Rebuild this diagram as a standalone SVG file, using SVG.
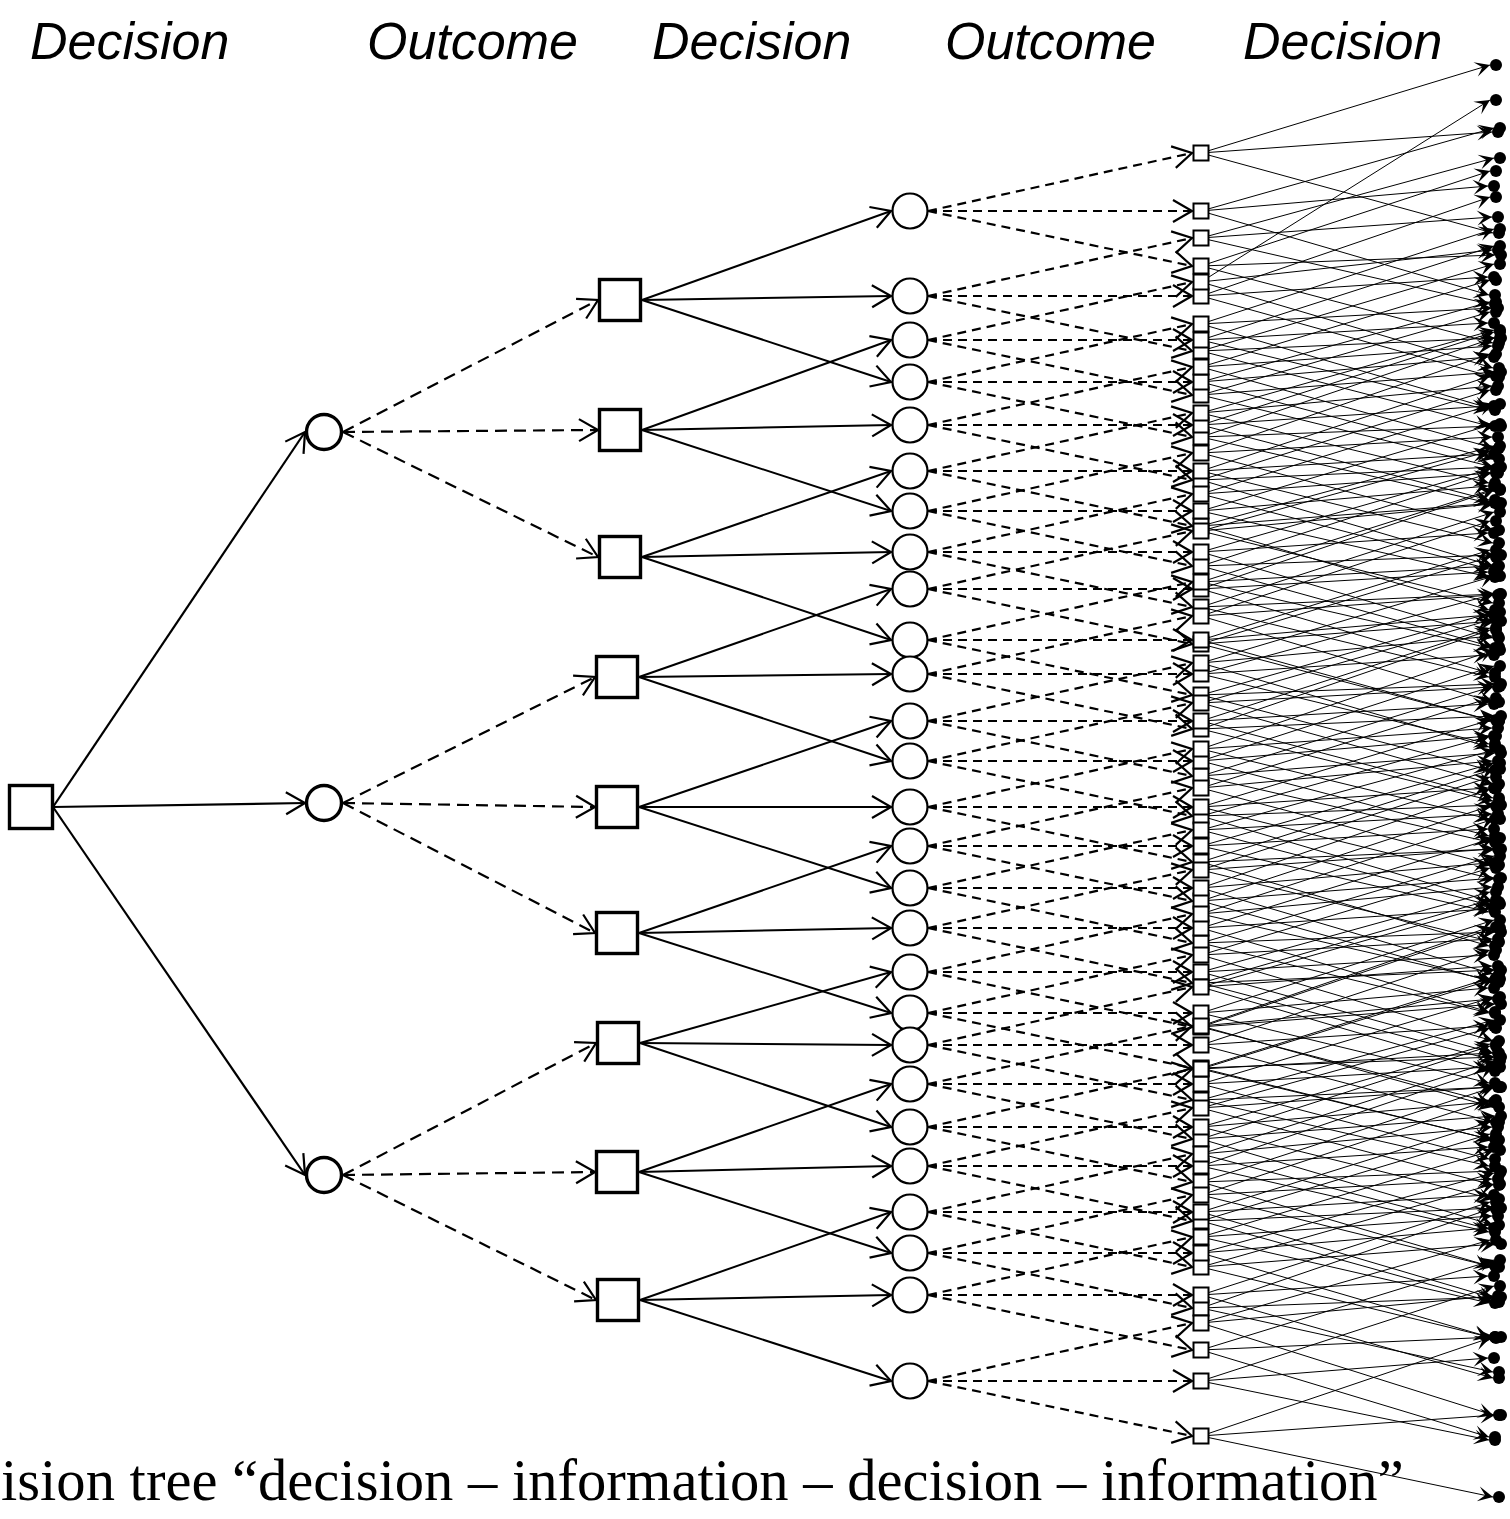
<svg xmlns="http://www.w3.org/2000/svg" width="1510" height="1519" viewBox="0 0 1510 1519">
<style>
.w{fill:#fff;stroke:#000}
.n1{stroke-width:3.4}
.n2{stroke-width:2.2}
.ss{fill:#fff;stroke:#000;stroke-width:2}
.dots circle{fill:#000}
#connectors path{fill:none;stroke:#000}
.l1 path{stroke-width:2.2;marker-end:url(#ah)}
.l2 path{stroke-width:2.2;stroke-dasharray:12 7;marker-end:url(#ah)}
.l3 path{stroke-width:2;marker-end:url(#ah)}
.l4 path{stroke-width:2.2;stroke-dasharray:9 6;marker-end:url(#ah)}
.l5 path{stroke-width:1;marker-end:url(#ad)}
.hd{font-family:"Liberation Sans",Arial,sans-serif;font-style:italic;font-size:52px;fill:#000}
.cap{font-family:"Liberation Serif","Times New Roman",serif;font-size:58.6px;fill:#000}
</style>
<defs>
<marker id="ah" markerUnits="userSpaceOnUse" viewBox="-22 -13 24 26" refX="0" refY="0" markerWidth="24" markerHeight="26" orient="auto" overflow="visible"><path d="M-19,-11 L0,0 L-19,11" fill="none" stroke="#000" stroke-width="2.2"/></marker>
<marker id="ad" markerUnits="userSpaceOnUse" viewBox="-16 -9 18 18" refX="0" refY="0" markerWidth="18" markerHeight="18" orient="auto" overflow="visible"><path d="M-15,-7.5 L0,0 L-15,7.5 L-8,0Z" fill="#000"/></marker>
</defs>
<rect width="1510" height="1519" fill="#fff"/>

<!-- column headings -->
<text class="hd" x="30" y="59">Decision</text>
<text class="hd" x="367" y="59">Outcome</text>
<text class="hd" x="652" y="59">Decision</text>
<text class="hd" x="945" y="59">Outcome</text>
<text class="hd" x="1243" y="59">Decision</text>

<g id="connectors">
<g class="l1">
<path d="M53 807L305 432"/><path d="M53 807L305 803"/><path d="M53 807L305 1175"/>
</g>
<g class="l2">
<path d="M343 432L598 300"/><path d="M343 432L598 430"/><path d="M343 432L598 557"/>
<path d="M343 803L595 677"/><path d="M343 803L595 807"/><path d="M343 803L595 933"/>
<path d="M343 1175L596 1043"/><path d="M343 1175L595 1172"/><path d="M343 1175L596 1300"/>
</g>
<g class="l3">
<path d="M642 300L891 211"/><path d="M642 300L891 296"/><path d="M642 300L891 382"/>
<path d="M642 430L891 340"/><path d="M642 430L891 425"/><path d="M642 430L891 511"/>
<path d="M642 557L891 471"/><path d="M642 557L891 552"/><path d="M642 557L891 640"/>
<path d="M639 677L891 589"/><path d="M639 677L891 674"/><path d="M639 677L891 761"/>
<path d="M639 807L891 721"/><path d="M639 807L891 807"/><path d="M639 807L891 888"/>
<path d="M639 933L891 846"/><path d="M639 933L891 928"/><path d="M639 933L891 1013"/>
<path d="M640 1043L891 972"/><path d="M640 1043L891 1045"/><path d="M640 1043L891 1127"/>
<path d="M639 1172L891 1084"/><path d="M639 1172L891 1166"/><path d="M639 1172L891 1253"/>
<path d="M640 1300L891 1212"/><path d="M640 1300L891 1295"/><path d="M640 1300L891 1381"/>
</g>
<g class="l4">
<path d="M928 211L1192 153"/><path d="M928 211L1192 211"/><path d="M928 211L1192 266"/>
<path d="M928 296L1192 238"/><path d="M928 296L1192 296"/><path d="M928 296L1192 351"/>
<path d="M928 340L1192 282"/><path d="M928 340L1192 340"/><path d="M928 340L1192 395"/>
<path d="M928 382L1192 324"/><path d="M928 382L1192 382"/><path d="M928 382L1192 437"/>
<path d="M928 425L1192 367"/><path d="M928 425L1192 425"/><path d="M928 425L1192 480"/>
<path d="M928 471L1192 413"/><path d="M928 471L1192 471"/><path d="M928 471L1192 526"/>
<path d="M928 511L1192 453"/><path d="M928 511L1192 511"/><path d="M928 511L1192 566"/>
<path d="M928 552L1192 494"/><path d="M928 552L1192 552"/><path d="M928 552L1192 607"/>
<path d="M928 589L1192 531"/><path d="M928 589L1192 589"/><path d="M928 589L1192 644"/>
<path d="M928 640L1192 582"/><path d="M928 640L1192 640"/><path d="M928 640L1192 695"/>
<path d="M928 674L1192 616"/><path d="M928 674L1192 674"/><path d="M928 674L1192 729"/>
<path d="M928 721L1192 663"/><path d="M928 721L1192 721"/><path d="M928 721L1192 776"/>
<path d="M928 761L1192 703"/><path d="M928 761L1192 761"/><path d="M928 761L1192 816"/>
<path d="M928 807L1192 749"/><path d="M928 807L1192 807"/><path d="M928 807L1192 862"/>
<path d="M928 846L1192 788"/><path d="M928 846L1192 846"/><path d="M928 846L1192 901"/>
<path d="M928 888L1192 830"/><path d="M928 888L1192 888"/><path d="M928 888L1192 943"/>
<path d="M928 928L1192 870"/><path d="M928 928L1192 928"/><path d="M928 928L1192 983"/>
<path d="M928 972L1192 914"/><path d="M928 972L1192 972"/><path d="M928 972L1192 1027"/>
<path d="M928 1013L1192 955"/><path d="M928 1013L1192 1013"/><path d="M928 1013L1192 1068"/>
<path d="M928 1045L1192 987"/><path d="M928 1045L1192 1045"/><path d="M928 1045L1192 1100"/>
<path d="M928 1084L1192 1026"/><path d="M928 1084L1192 1084"/><path d="M928 1084L1192 1139"/>
<path d="M928 1127L1192 1069"/><path d="M928 1127L1192 1127"/><path d="M928 1127L1192 1182"/>
<path d="M928 1166L1192 1108"/><path d="M928 1166L1192 1166"/><path d="M928 1166L1192 1221"/>
<path d="M928 1212L1192 1154"/><path d="M928 1212L1192 1212"/><path d="M928 1212L1192 1267"/>
<path d="M928 1253L1192 1195"/><path d="M928 1253L1192 1253"/><path d="M928 1253L1192 1308"/>
<path d="M928 1295L1192 1237"/><path d="M928 1295L1192 1295"/><path d="M928 1295L1192 1350"/>
<path d="M928 1381L1192 1323"/><path d="M928 1381L1192 1381"/><path d="M928 1381L1192 1436"/>
</g>
<g class="l5">
<path d="M1201 153L1490 65"/><path d="M1201 153L1492 132"/><path d="M1201 153L1493 233"/>
<path d="M1201 211L1494 128"/><path d="M1201 211L1488 186"/><path d="M1201 211L1489 295"/>
<path d="M1201 266L1490 171"/><path d="M1201 266L1495 255"/><path d="M1201 266L1493 343"/>
<path d="M1201 238L1494 158"/><path d="M1201 238L1492 217"/><path d="M1201 238L1489 304"/>
<path d="M1201 296L1490 197"/><path d="M1201 296L1488 277"/><path d="M1201 296L1493 377"/>
<path d="M1201 351L1494 264"/><path d="M1201 351L1495 338"/><path d="M1201 351L1489 426"/>
<path d="M1201 282L1490 100"/><path d="M1201 282L1492 250"/><path d="M1201 282L1493 368"/>
<path d="M1201 340L1494 246"/><path d="M1201 340L1488 323"/><path d="M1201 340L1489 410"/>
<path d="M1201 395L1490 312"/><path d="M1201 395L1495 372"/><path d="M1201 395L1493 467"/>
<path d="M1201 324L1494 229"/><path d="M1201 324L1492 308"/><path d="M1201 324L1489 408"/>
<path d="M1201 382L1490 302"/><path d="M1201 382L1488 357"/><path d="M1201 382L1493 459"/>
<path d="M1201 437L1494 338"/><path d="M1201 437L1495 426"/><path d="M1201 437L1489 503"/>
<path d="M1201 367L1490 280"/><path d="M1201 367L1492 346"/><path d="M1201 367L1493 448"/>
<path d="M1201 425L1494 332"/><path d="M1201 425L1488 406"/><path d="M1201 425L1489 500"/>
<path d="M1201 480L1490 390"/><path d="M1201 480L1495 467"/><path d="M1201 480L1493 566"/>
<path d="M1201 413L1494 330"/><path d="M1201 413L1492 386"/><path d="M1201 413L1489 483"/>
<path d="M1201 471L1490 376"/><path d="M1201 471L1488 454"/><path d="M1201 471L1493 543"/>
<path d="M1201 526L1494 446"/><path d="M1201 526L1495 503"/><path d="M1201 526L1489 610"/>
<path d="M1201 453L1490 354"/><path d="M1201 453L1492 437"/><path d="M1201 453L1493 530"/>
<path d="M1201 511L1494 424"/><path d="M1201 511L1488 486"/><path d="M1201 511L1489 577"/>
<path d="M1201 566L1490 473"/><path d="M1201 566L1495 555"/><path d="M1201 566L1493 647"/>
<path d="M1201 494L1494 404"/><path d="M1201 494L1492 473"/><path d="M1201 494L1489 569"/>
<path d="M1201 552L1490 469"/><path d="M1201 552L1488 533"/><path d="M1201 552L1493 638"/>
<path d="M1201 607L1494 512"/><path d="M1201 607L1495 594"/><path d="M1201 607L1489 677"/>
<path d="M1201 531L1490 451"/><path d="M1201 531L1492 504"/><path d="M1201 531L1493 603"/>
<path d="M1201 589L1494 490"/><path d="M1201 589L1488 572"/><path d="M1201 589L1489 673"/>
<path d="M1201 644L1490 557"/><path d="M1201 644L1495 621"/><path d="M1201 644L1493 721"/>
<path d="M1201 582L1494 489"/><path d="M1201 582L1492 566"/><path d="M1201 582L1489 648"/>
<path d="M1201 640L1490 550"/><path d="M1201 640L1488 615"/><path d="M1201 640L1493 721"/>
<path d="M1201 695L1494 612"/><path d="M1201 695L1495 684"/><path d="M1201 695L1489 770"/>
<path d="M1201 616L1490 521"/><path d="M1201 616L1492 595"/><path d="M1201 616L1493 702"/>
<path d="M1201 674L1494 594"/><path d="M1201 674L1488 655"/><path d="M1201 674L1489 744"/>
<path d="M1201 729L1490 630"/><path d="M1201 729L1495 716"/><path d="M1201 729L1493 801"/>
<path d="M1201 663L1494 576"/><path d="M1201 663L1492 636"/><path d="M1201 663L1489 747"/>
<path d="M1201 721L1490 628"/><path d="M1201 721L1488 704"/><path d="M1201 721L1493 798"/>
<path d="M1201 776L1494 686"/><path d="M1201 776L1495 753"/><path d="M1201 776L1489 842"/>
<path d="M1201 703L1490 620"/><path d="M1201 703L1492 687"/><path d="M1201 703L1493 784"/>
<path d="M1201 761L1494 666"/><path d="M1201 761L1488 736"/><path d="M1201 761L1489 836"/>
<path d="M1201 816L1490 736"/><path d="M1201 816L1495 805"/><path d="M1201 816L1493 902"/>
<path d="M1201 749L1494 650"/><path d="M1201 749L1492 728"/><path d="M1201 749L1489 819"/>
<path d="M1201 807L1490 720"/><path d="M1201 807L1488 788"/><path d="M1201 807L1493 879"/>
<path d="M1201 862L1494 769"/><path d="M1201 862L1495 849"/><path d="M1201 862L1489 946"/>
<path d="M1201 788L1490 698"/><path d="M1201 788L1492 761"/><path d="M1201 788L1493 865"/>
<path d="M1201 846L1494 763"/><path d="M1201 846L1488 829"/><path d="M1201 846L1489 912"/>
<path d="M1201 901L1490 806"/><path d="M1201 901L1495 878"/><path d="M1201 901L1493 982"/>
<path d="M1201 830L1494 750"/><path d="M1201 830L1492 814"/><path d="M1201 830L1489 905"/>
<path d="M1201 888L1490 789"/><path d="M1201 888L1488 863"/><path d="M1201 888L1493 974"/>
<path d="M1201 943L1494 856"/><path d="M1201 943L1495 932"/><path d="M1201 943L1489 1013"/>
<path d="M1201 870L1490 777"/><path d="M1201 870L1492 849"/><path d="M1201 870L1493 942"/>
<path d="M1201 928L1494 838"/><path d="M1201 928L1488 909"/><path d="M1201 928L1489 1012"/>
<path d="M1201 983L1490 900"/><path d="M1201 983L1495 970"/><path d="M1201 983L1493 1060"/>
<path d="M1201 914L1494 819"/><path d="M1201 914L1492 887"/><path d="M1201 914L1489 980"/>
<path d="M1201 972L1490 892"/><path d="M1201 972L1488 955"/><path d="M1201 972L1493 1053"/>
<path d="M1201 1027L1494 928"/><path d="M1201 1027L1495 1004"/><path d="M1201 1027L1489 1102"/>
<path d="M1201 955L1490 868"/><path d="M1201 955L1492 939"/><path d="M1201 955L1493 1041"/>
<path d="M1201 1013L1494 920"/><path d="M1201 1013L1488 988"/><path d="M1201 1013L1489 1083"/>
<path d="M1201 1068L1490 978"/><path d="M1201 1068L1495 1057"/><path d="M1201 1068L1493 1140"/>
<path d="M1201 987L1494 904"/><path d="M1201 987L1492 966"/><path d="M1201 987L1489 1071"/>
<path d="M1201 1045L1490 950"/><path d="M1201 1045L1488 1026"/><path d="M1201 1045L1493 1122"/>
<path d="M1201 1100L1494 1020"/><path d="M1201 1100L1495 1087"/><path d="M1201 1100L1489 1166"/>
<path d="M1201 1026L1490 927"/><path d="M1201 1026L1492 999"/><path d="M1201 1026L1493 1107"/>
<path d="M1201 1084L1494 997"/><path d="M1201 1084L1488 1067"/><path d="M1201 1084L1489 1159"/>
<path d="M1201 1139L1490 1046"/><path d="M1201 1139L1495 1116"/><path d="M1201 1139L1493 1225"/>
<path d="M1201 1069L1494 979"/><path d="M1201 1069L1492 1053"/><path d="M1201 1069L1489 1139"/>
<path d="M1201 1127L1490 1044"/><path d="M1201 1127L1488 1102"/><path d="M1201 1127L1493 1199"/>
<path d="M1201 1182L1494 1087"/><path d="M1201 1182L1495 1171"/><path d="M1201 1182L1489 1266"/>
<path d="M1201 1108L1490 1028"/><path d="M1201 1108L1492 1087"/><path d="M1201 1108L1493 1185"/>
<path d="M1201 1166L1494 1067"/><path d="M1201 1166L1488 1147"/><path d="M1201 1166L1489 1232"/>
<path d="M1201 1221L1490 1134"/><path d="M1201 1221L1495 1208"/><path d="M1201 1221L1493 1302"/>
<path d="M1201 1154L1494 1061"/><path d="M1201 1154L1492 1127"/><path d="M1201 1154L1489 1229"/>
<path d="M1201 1212L1490 1122"/><path d="M1201 1212L1488 1195"/><path d="M1201 1212L1493 1298"/>
<path d="M1201 1267L1494 1184"/><path d="M1201 1267L1495 1244"/><path d="M1201 1267L1489 1337"/>
<path d="M1201 1195L1490 1100"/><path d="M1201 1195L1492 1179"/><path d="M1201 1195L1493 1267"/>
<path d="M1201 1253L1494 1173"/><path d="M1201 1253L1488 1228"/><path d="M1201 1253L1489 1337"/>
<path d="M1201 1308L1490 1209"/><path d="M1201 1308L1495 1297"/><path d="M1201 1308L1493 1372"/>
<path d="M1201 1237L1494 1150"/><path d="M1201 1237L1492 1216"/><path d="M1201 1237L1489 1303"/>
<path d="M1201 1295L1490 1202"/><path d="M1201 1295L1488 1276"/><path d="M1201 1295L1493 1378"/>
<path d="M1201 1350L1494 1260"/><path d="M1201 1350L1495 1337"/><path d="M1201 1350L1489 1437"/>
<path d="M1201 1323L1490 1240"/><path d="M1201 1323L1492 1296"/><path d="M1201 1323L1493 1415"/>
<path d="M1201 1381L1494 1286"/><path d="M1201 1381L1488 1358"/><path d="M1201 1381L1489 1440"/>
<path d="M1201 1436L1490 1338"/><path d="M1201 1436L1495 1415"/><path d="M1201 1436L1493 1497"/>
</g>
</g>

<!-- decision root -->
<g id="root"><rect class="w n1" x="9.5" y="785.5" width="43" height="43"/></g>

<!-- first outcome nodes -->
<g id="p1"><circle class="w n1" cx="324" cy="432" r="17.5"/></g>
<g id="p2"><circle class="w n1" cx="324" cy="803" r="17.5"/></g>
<g id="p3"><circle class="w n1" cx="324" cy="1175" r="17.5"/></g>

<!-- second decision nodes -->
<g id="q1"><rect class="w n1" x="599.5" y="279.5" width="41" height="41"/></g>
<g id="q2"><rect class="w n1" x="599.5" y="409.5" width="41" height="41"/></g>
<g id="q3"><rect class="w n1" x="599.5" y="536.5" width="41" height="41"/></g>
<g id="q4"><rect class="w n1" x="596.5" y="656.5" width="41" height="41"/></g>
<g id="q5"><rect class="w n1" x="596.5" y="786.5" width="41" height="41"/></g>
<g id="q6"><rect class="w n1" x="596.5" y="912.5" width="41" height="41"/></g>
<g id="q7"><rect class="w n1" x="597.5" y="1022.5" width="41" height="41"/></g>
<g id="q8"><rect class="w n1" x="596.5" y="1151.5" width="41" height="41"/></g>
<g id="q9"><rect class="w n1" x="597.5" y="1279.5" width="41" height="41"/></g>

<!-- second outcome nodes -->
<g id="c1"><circle class="w n2" cx="910" cy="211" r="17.5"/></g>
<g id="c2"><circle class="w n2" cx="910" cy="296" r="17.5"/></g>
<g id="c3"><circle class="w n2" cx="910" cy="340" r="17.5"/></g>
<g id="c4"><circle class="w n2" cx="910" cy="382" r="17.5"/></g>
<g id="c5"><circle class="w n2" cx="910" cy="425" r="17.5"/></g>
<g id="c6"><circle class="w n2" cx="910" cy="471" r="17.5"/></g>
<g id="c7"><circle class="w n2" cx="910" cy="511" r="17.5"/></g>
<g id="c8"><circle class="w n2" cx="910" cy="552" r="17.5"/></g>
<g id="c9"><circle class="w n2" cx="910" cy="589" r="17.5"/></g>
<g id="c10"><circle class="w n2" cx="910" cy="640" r="17.5"/></g>
<g id="c11"><circle class="w n2" cx="910" cy="674" r="17.5"/></g>
<g id="c12"><circle class="w n2" cx="910" cy="721" r="17.5"/></g>
<g id="c13"><circle class="w n2" cx="910" cy="761" r="17.5"/></g>
<g id="c14"><circle class="w n2" cx="910" cy="807" r="17.5"/></g>
<g id="c15"><circle class="w n2" cx="910" cy="846" r="17.5"/></g>
<g id="c16"><circle class="w n2" cx="910" cy="888" r="17.5"/></g>
<g id="c17"><circle class="w n2" cx="910" cy="928" r="17.5"/></g>
<g id="c18"><circle class="w n2" cx="910" cy="972" r="17.5"/></g>
<g id="c19"><circle class="w n2" cx="910" cy="1013" r="17.5"/></g>
<g id="c20"><circle class="w n2" cx="910" cy="1045" r="17.5"/></g>
<g id="c21"><circle class="w n2" cx="910" cy="1084" r="17.5"/></g>
<g id="c22"><circle class="w n2" cx="910" cy="1127" r="17.5"/></g>
<g id="c23"><circle class="w n2" cx="910" cy="1166" r="17.5"/></g>
<g id="c24"><circle class="w n2" cx="910" cy="1212" r="17.5"/></g>
<g id="c25"><circle class="w n2" cx="910" cy="1253" r="17.5"/></g>
<g id="c26"><circle class="w n2" cx="910" cy="1295" r="17.5"/></g>
<g id="c27"><circle class="w n2" cx="910" cy="1381" r="17.5"/></g>

<!-- third decision nodes (small squares) -->
<g id="s0"><rect class="ss" x="1193.5" y="145.5" width="15" height="15"/></g>
<g id="s1"><rect class="ss" x="1193.5" y="203.5" width="15" height="15"/></g>
<g id="s2"><rect class="ss" x="1193.5" y="258.5" width="15" height="15"/></g>
<g id="s3"><rect class="ss" x="1193.5" y="230.5" width="15" height="15"/></g>
<g id="s4"><rect class="ss" x="1193.5" y="288.5" width="15" height="15"/></g>
<g id="s5"><rect class="ss" x="1193.5" y="343.5" width="15" height="15"/></g>
<g id="s6"><rect class="ss" x="1193.5" y="274.5" width="15" height="15"/></g>
<g id="s7"><rect class="ss" x="1193.5" y="332.5" width="15" height="15"/></g>
<g id="s8"><rect class="ss" x="1193.5" y="387.5" width="15" height="15"/></g>
<g id="s9"><rect class="ss" x="1193.5" y="316.5" width="15" height="15"/></g>
<g id="s10"><rect class="ss" x="1193.5" y="374.5" width="15" height="15"/></g>
<g id="s11"><rect class="ss" x="1193.5" y="429.5" width="15" height="15"/></g>
<g id="s12"><rect class="ss" x="1193.5" y="359.5" width="15" height="15"/></g>
<g id="s13"><rect class="ss" x="1193.5" y="417.5" width="15" height="15"/></g>
<g id="s14"><rect class="ss" x="1193.5" y="472.5" width="15" height="15"/></g>
<g id="s15"><rect class="ss" x="1193.5" y="405.5" width="15" height="15"/></g>
<g id="s16"><rect class="ss" x="1193.5" y="463.5" width="15" height="15"/></g>
<g id="s17"><rect class="ss" x="1193.5" y="518.5" width="15" height="15"/></g>
<g id="s18"><rect class="ss" x="1193.5" y="445.5" width="15" height="15"/></g>
<g id="s19"><rect class="ss" x="1193.5" y="503.5" width="15" height="15"/></g>
<g id="s20"><rect class="ss" x="1193.5" y="558.5" width="15" height="15"/></g>
<g id="s21"><rect class="ss" x="1193.5" y="486.5" width="15" height="15"/></g>
<g id="s22"><rect class="ss" x="1193.5" y="544.5" width="15" height="15"/></g>
<g id="s23"><rect class="ss" x="1193.5" y="599.5" width="15" height="15"/></g>
<g id="s24"><rect class="ss" x="1193.5" y="523.5" width="15" height="15"/></g>
<g id="s25"><rect class="ss" x="1193.5" y="581.5" width="15" height="15"/></g>
<g id="s26"><rect class="ss" x="1193.5" y="636.5" width="15" height="15"/></g>
<g id="s27"><rect class="ss" x="1193.5" y="574.5" width="15" height="15"/></g>
<g id="s28"><rect class="ss" x="1193.5" y="632.5" width="15" height="15"/></g>
<g id="s29"><rect class="ss" x="1193.5" y="687.5" width="15" height="15"/></g>
<g id="s30"><rect class="ss" x="1193.5" y="608.5" width="15" height="15"/></g>
<g id="s31"><rect class="ss" x="1193.5" y="666.5" width="15" height="15"/></g>
<g id="s32"><rect class="ss" x="1193.5" y="721.5" width="15" height="15"/></g>
<g id="s33"><rect class="ss" x="1193.5" y="655.5" width="15" height="15"/></g>
<g id="s34"><rect class="ss" x="1193.5" y="713.5" width="15" height="15"/></g>
<g id="s35"><rect class="ss" x="1193.5" y="768.5" width="15" height="15"/></g>
<g id="s36"><rect class="ss" x="1193.5" y="695.5" width="15" height="15"/></g>
<g id="s37"><rect class="ss" x="1193.5" y="753.5" width="15" height="15"/></g>
<g id="s38"><rect class="ss" x="1193.5" y="808.5" width="15" height="15"/></g>
<g id="s39"><rect class="ss" x="1193.5" y="741.5" width="15" height="15"/></g>
<g id="s40"><rect class="ss" x="1193.5" y="799.5" width="15" height="15"/></g>
<g id="s41"><rect class="ss" x="1193.5" y="854.5" width="15" height="15"/></g>
<g id="s42"><rect class="ss" x="1193.5" y="780.5" width="15" height="15"/></g>
<g id="s43"><rect class="ss" x="1193.5" y="838.5" width="15" height="15"/></g>
<g id="s44"><rect class="ss" x="1193.5" y="893.5" width="15" height="15"/></g>
<g id="s45"><rect class="ss" x="1193.5" y="822.5" width="15" height="15"/></g>
<g id="s46"><rect class="ss" x="1193.5" y="880.5" width="15" height="15"/></g>
<g id="s47"><rect class="ss" x="1193.5" y="935.5" width="15" height="15"/></g>
<g id="s48"><rect class="ss" x="1193.5" y="862.5" width="15" height="15"/></g>
<g id="s49"><rect class="ss" x="1193.5" y="920.5" width="15" height="15"/></g>
<g id="s50"><rect class="ss" x="1193.5" y="975.5" width="15" height="15"/></g>
<g id="s51"><rect class="ss" x="1193.5" y="906.5" width="15" height="15"/></g>
<g id="s52"><rect class="ss" x="1193.5" y="964.5" width="15" height="15"/></g>
<g id="s53"><rect class="ss" x="1193.5" y="1019.5" width="15" height="15"/></g>
<g id="s54"><rect class="ss" x="1193.5" y="947.5" width="15" height="15"/></g>
<g id="s55"><rect class="ss" x="1193.5" y="1005.5" width="15" height="15"/></g>
<g id="s56"><rect class="ss" x="1193.5" y="1060.5" width="15" height="15"/></g>
<g id="s57"><rect class="ss" x="1193.5" y="979.5" width="15" height="15"/></g>
<g id="s58"><rect class="ss" x="1193.5" y="1037.5" width="15" height="15"/></g>
<g id="s59"><rect class="ss" x="1193.5" y="1092.5" width="15" height="15"/></g>
<g id="s60"><rect class="ss" x="1193.5" y="1018.5" width="15" height="15"/></g>
<g id="s61"><rect class="ss" x="1193.5" y="1076.5" width="15" height="15"/></g>
<g id="s62"><rect class="ss" x="1193.5" y="1131.5" width="15" height="15"/></g>
<g id="s63"><rect class="ss" x="1193.5" y="1061.5" width="15" height="15"/></g>
<g id="s64"><rect class="ss" x="1193.5" y="1119.5" width="15" height="15"/></g>
<g id="s65"><rect class="ss" x="1193.5" y="1174.5" width="15" height="15"/></g>
<g id="s66"><rect class="ss" x="1193.5" y="1100.5" width="15" height="15"/></g>
<g id="s67"><rect class="ss" x="1193.5" y="1158.5" width="15" height="15"/></g>
<g id="s68"><rect class="ss" x="1193.5" y="1213.5" width="15" height="15"/></g>
<g id="s69"><rect class="ss" x="1193.5" y="1146.5" width="15" height="15"/></g>
<g id="s70"><rect class="ss" x="1193.5" y="1204.5" width="15" height="15"/></g>
<g id="s71"><rect class="ss" x="1193.5" y="1259.5" width="15" height="15"/></g>
<g id="s72"><rect class="ss" x="1193.5" y="1187.5" width="15" height="15"/></g>
<g id="s73"><rect class="ss" x="1193.5" y="1245.5" width="15" height="15"/></g>
<g id="s74"><rect class="ss" x="1193.5" y="1300.5" width="15" height="15"/></g>
<g id="s75"><rect class="ss" x="1193.5" y="1229.5" width="15" height="15"/></g>
<g id="s76"><rect class="ss" x="1193.5" y="1287.5" width="15" height="15"/></g>
<g id="s77"><rect class="ss" x="1193.5" y="1342.5" width="15" height="15"/></g>
<g id="s78"><rect class="ss" x="1193.5" y="1315.5" width="15" height="15"/></g>
<g id="s79"><rect class="ss" x="1193.5" y="1373.5" width="15" height="15"/></g>
<g id="s80"><rect class="ss" x="1193.5" y="1428.5" width="15" height="15"/></g>

<!-- terminal nodes -->
<g class="dots">
<g id="o0u"><circle cx="1496" cy="65" r="6"/></g><g id="o0m"><circle cx="1498" cy="132" r="6"/></g><g id="o0d"><circle cx="1499" cy="233" r="6"/></g>
<g id="o1u"><circle cx="1500" cy="128" r="6"/></g><g id="o1m"><circle cx="1494" cy="186" r="6"/></g><g id="o1d"><circle cx="1495" cy="295" r="6"/></g>
<g id="o2u"><circle cx="1496" cy="171" r="6"/></g><g id="o2m"><circle cx="1501" cy="255" r="6"/></g><g id="o2d"><circle cx="1499" cy="343" r="6"/></g>
<g id="o3u"><circle cx="1500" cy="158" r="6"/></g><g id="o3m"><circle cx="1498" cy="217" r="6"/></g><g id="o3d"><circle cx="1495" cy="304" r="6"/></g>
<g id="o4u"><circle cx="1496" cy="197" r="6"/></g><g id="o4m"><circle cx="1494" cy="277" r="6"/></g><g id="o4d"><circle cx="1499" cy="377" r="6"/></g>
<g id="o5u"><circle cx="1500" cy="264" r="6"/></g><g id="o5m"><circle cx="1501" cy="338" r="6"/></g><g id="o5d"><circle cx="1495" cy="426" r="6"/></g>
<g id="o6u"><circle cx="1496" cy="100" r="6"/></g><g id="o6m"><circle cx="1498" cy="250" r="6"/></g><g id="o6d"><circle cx="1499" cy="368" r="6"/></g>
<g id="o7u"><circle cx="1500" cy="246" r="6"/></g><g id="o7m"><circle cx="1494" cy="323" r="6"/></g><g id="o7d"><circle cx="1495" cy="410" r="6"/></g>
<g id="o8u"><circle cx="1496" cy="312" r="6"/></g><g id="o8m"><circle cx="1501" cy="372" r="6"/></g><g id="o8d"><circle cx="1499" cy="467" r="6"/></g>
<g id="o9u"><circle cx="1500" cy="229" r="6"/></g><g id="o9m"><circle cx="1498" cy="308" r="6"/></g><g id="o9d"><circle cx="1495" cy="408" r="6"/></g>
<g id="o10u"><circle cx="1496" cy="302" r="6"/></g><g id="o10m"><circle cx="1494" cy="357" r="6"/></g><g id="o10d"><circle cx="1499" cy="459" r="6"/></g>
<g id="o11u"><circle cx="1500" cy="338" r="6"/></g><g id="o11m"><circle cx="1501" cy="426" r="6"/></g><g id="o11d"><circle cx="1495" cy="503" r="6"/></g>
<g id="o12u"><circle cx="1496" cy="280" r="6"/></g><g id="o12m"><circle cx="1498" cy="346" r="6"/></g><g id="o12d"><circle cx="1499" cy="448" r="6"/></g>
<g id="o13u"><circle cx="1500" cy="332" r="6"/></g><g id="o13m"><circle cx="1494" cy="406" r="6"/></g><g id="o13d"><circle cx="1495" cy="500" r="6"/></g>
<g id="o14u"><circle cx="1496" cy="390" r="6"/></g><g id="o14m"><circle cx="1501" cy="467" r="6"/></g><g id="o14d"><circle cx="1499" cy="566" r="6"/></g>
<g id="o15u"><circle cx="1500" cy="330" r="6"/></g><g id="o15m"><circle cx="1498" cy="386" r="6"/></g><g id="o15d"><circle cx="1495" cy="483" r="6"/></g>
<g id="o16u"><circle cx="1496" cy="376" r="6"/></g><g id="o16m"><circle cx="1494" cy="454" r="6"/></g><g id="o16d"><circle cx="1499" cy="543" r="6"/></g>
<g id="o17u"><circle cx="1500" cy="446" r="6"/></g><g id="o17m"><circle cx="1501" cy="503" r="6"/></g><g id="o17d"><circle cx="1495" cy="610" r="6"/></g>
<g id="o18u"><circle cx="1496" cy="354" r="6"/></g><g id="o18m"><circle cx="1498" cy="437" r="6"/></g><g id="o18d"><circle cx="1499" cy="530" r="6"/></g>
<g id="o19u"><circle cx="1500" cy="424" r="6"/></g><g id="o19m"><circle cx="1494" cy="486" r="6"/></g><g id="o19d"><circle cx="1495" cy="577" r="6"/></g>
<g id="o20u"><circle cx="1496" cy="473" r="6"/></g><g id="o20m"><circle cx="1501" cy="555" r="6"/></g><g id="o20d"><circle cx="1499" cy="647" r="6"/></g>
<g id="o21u"><circle cx="1500" cy="404" r="6"/></g><g id="o21m"><circle cx="1498" cy="473" r="6"/></g><g id="o21d"><circle cx="1495" cy="569" r="6"/></g>
<g id="o22u"><circle cx="1496" cy="469" r="6"/></g><g id="o22m"><circle cx="1494" cy="533" r="6"/></g><g id="o22d"><circle cx="1499" cy="638" r="6"/></g>
<g id="o23u"><circle cx="1500" cy="512" r="6"/></g><g id="o23m"><circle cx="1501" cy="594" r="6"/></g><g id="o23d"><circle cx="1495" cy="677" r="6"/></g>
<g id="o24u"><circle cx="1496" cy="451" r="6"/></g><g id="o24m"><circle cx="1498" cy="504" r="6"/></g><g id="o24d"><circle cx="1499" cy="603" r="6"/></g>
<g id="o25u"><circle cx="1500" cy="490" r="6"/></g><g id="o25m"><circle cx="1494" cy="572" r="6"/></g><g id="o25d"><circle cx="1495" cy="673" r="6"/></g>
<g id="o26u"><circle cx="1496" cy="557" r="6"/></g><g id="o26m"><circle cx="1501" cy="621" r="6"/></g><g id="o26d"><circle cx="1499" cy="721" r="6"/></g>
<g id="o27u"><circle cx="1500" cy="489" r="6"/></g><g id="o27m"><circle cx="1498" cy="566" r="6"/></g><g id="o27d"><circle cx="1495" cy="648" r="6"/></g>
<g id="o28u"><circle cx="1496" cy="550" r="6"/></g><g id="o28m"><circle cx="1494" cy="615" r="6"/></g><g id="o28d"><circle cx="1499" cy="721" r="6"/></g>
<g id="o29u"><circle cx="1500" cy="612" r="6"/></g><g id="o29m"><circle cx="1501" cy="684" r="6"/></g><g id="o29d"><circle cx="1495" cy="770" r="6"/></g>
<g id="o30u"><circle cx="1496" cy="521" r="6"/></g><g id="o30m"><circle cx="1498" cy="595" r="6"/></g><g id="o30d"><circle cx="1499" cy="702" r="6"/></g>
<g id="o31u"><circle cx="1500" cy="594" r="6"/></g><g id="o31m"><circle cx="1494" cy="655" r="6"/></g><g id="o31d"><circle cx="1495" cy="744" r="6"/></g>
<g id="o32u"><circle cx="1496" cy="630" r="6"/></g><g id="o32m"><circle cx="1501" cy="716" r="6"/></g><g id="o32d"><circle cx="1499" cy="801" r="6"/></g>
<g id="o33u"><circle cx="1500" cy="576" r="6"/></g><g id="o33m"><circle cx="1498" cy="636" r="6"/></g><g id="o33d"><circle cx="1495" cy="747" r="6"/></g>
<g id="o34u"><circle cx="1496" cy="628" r="6"/></g><g id="o34m"><circle cx="1494" cy="704" r="6"/></g><g id="o34d"><circle cx="1499" cy="798" r="6"/></g>
<g id="o35u"><circle cx="1500" cy="686" r="6"/></g><g id="o35m"><circle cx="1501" cy="753" r="6"/></g><g id="o35d"><circle cx="1495" cy="842" r="6"/></g>
<g id="o36u"><circle cx="1496" cy="620" r="6"/></g><g id="o36m"><circle cx="1498" cy="687" r="6"/></g><g id="o36d"><circle cx="1499" cy="784" r="6"/></g>
<g id="o37u"><circle cx="1500" cy="666" r="6"/></g><g id="o37m"><circle cx="1494" cy="736" r="6"/></g><g id="o37d"><circle cx="1495" cy="836" r="6"/></g>
<g id="o38u"><circle cx="1496" cy="736" r="6"/></g><g id="o38m"><circle cx="1501" cy="805" r="6"/></g><g id="o38d"><circle cx="1499" cy="902" r="6"/></g>
<g id="o39u"><circle cx="1500" cy="650" r="6"/></g><g id="o39m"><circle cx="1498" cy="728" r="6"/></g><g id="o39d"><circle cx="1495" cy="819" r="6"/></g>
<g id="o40u"><circle cx="1496" cy="720" r="6"/></g><g id="o40m"><circle cx="1494" cy="788" r="6"/></g><g id="o40d"><circle cx="1499" cy="879" r="6"/></g>
<g id="o41u"><circle cx="1500" cy="769" r="6"/></g><g id="o41m"><circle cx="1501" cy="849" r="6"/></g><g id="o41d"><circle cx="1495" cy="946" r="6"/></g>
<g id="o42u"><circle cx="1496" cy="698" r="6"/></g><g id="o42m"><circle cx="1498" cy="761" r="6"/></g><g id="o42d"><circle cx="1499" cy="865" r="6"/></g>
<g id="o43u"><circle cx="1500" cy="763" r="6"/></g><g id="o43m"><circle cx="1494" cy="829" r="6"/></g><g id="o43d"><circle cx="1495" cy="912" r="6"/></g>
<g id="o44u"><circle cx="1496" cy="806" r="6"/></g><g id="o44m"><circle cx="1501" cy="878" r="6"/></g><g id="o44d"><circle cx="1499" cy="982" r="6"/></g>
<g id="o45u"><circle cx="1500" cy="750" r="6"/></g><g id="o45m"><circle cx="1498" cy="814" r="6"/></g><g id="o45d"><circle cx="1495" cy="905" r="6"/></g>
<g id="o46u"><circle cx="1496" cy="789" r="6"/></g><g id="o46m"><circle cx="1494" cy="863" r="6"/></g><g id="o46d"><circle cx="1499" cy="974" r="6"/></g>
<g id="o47u"><circle cx="1500" cy="856" r="6"/></g><g id="o47m"><circle cx="1501" cy="932" r="6"/></g><g id="o47d"><circle cx="1495" cy="1013" r="6"/></g>
<g id="o48u"><circle cx="1496" cy="777" r="6"/></g><g id="o48m"><circle cx="1498" cy="849" r="6"/></g><g id="o48d"><circle cx="1499" cy="942" r="6"/></g>
<g id="o49u"><circle cx="1500" cy="838" r="6"/></g><g id="o49m"><circle cx="1494" cy="909" r="6"/></g><g id="o49d"><circle cx="1495" cy="1012" r="6"/></g>
<g id="o50u"><circle cx="1496" cy="900" r="6"/></g><g id="o50m"><circle cx="1501" cy="970" r="6"/></g><g id="o50d"><circle cx="1499" cy="1060" r="6"/></g>
<g id="o51u"><circle cx="1500" cy="819" r="6"/></g><g id="o51m"><circle cx="1498" cy="887" r="6"/></g><g id="o51d"><circle cx="1495" cy="980" r="6"/></g>
<g id="o52u"><circle cx="1496" cy="892" r="6"/></g><g id="o52m"><circle cx="1494" cy="955" r="6"/></g><g id="o52d"><circle cx="1499" cy="1053" r="6"/></g>
<g id="o53u"><circle cx="1500" cy="928" r="6"/></g><g id="o53m"><circle cx="1501" cy="1004" r="6"/></g><g id="o53d"><circle cx="1495" cy="1102" r="6"/></g>
<g id="o54u"><circle cx="1496" cy="868" r="6"/></g><g id="o54m"><circle cx="1498" cy="939" r="6"/></g><g id="o54d"><circle cx="1499" cy="1041" r="6"/></g>
<g id="o55u"><circle cx="1500" cy="920" r="6"/></g><g id="o55m"><circle cx="1494" cy="988" r="6"/></g><g id="o55d"><circle cx="1495" cy="1083" r="6"/></g>
<g id="o56u"><circle cx="1496" cy="978" r="6"/></g><g id="o56m"><circle cx="1501" cy="1057" r="6"/></g><g id="o56d"><circle cx="1499" cy="1140" r="6"/></g>
<g id="o57u"><circle cx="1500" cy="904" r="6"/></g><g id="o57m"><circle cx="1498" cy="966" r="6"/></g><g id="o57d"><circle cx="1495" cy="1071" r="6"/></g>
<g id="o58u"><circle cx="1496" cy="950" r="6"/></g><g id="o58m"><circle cx="1494" cy="1026" r="6"/></g><g id="o58d"><circle cx="1499" cy="1122" r="6"/></g>
<g id="o59u"><circle cx="1500" cy="1020" r="6"/></g><g id="o59m"><circle cx="1501" cy="1087" r="6"/></g><g id="o59d"><circle cx="1495" cy="1166" r="6"/></g>
<g id="o60u"><circle cx="1496" cy="927" r="6"/></g><g id="o60m"><circle cx="1498" cy="999" r="6"/></g><g id="o60d"><circle cx="1499" cy="1107" r="6"/></g>
<g id="o61u"><circle cx="1500" cy="997" r="6"/></g><g id="o61m"><circle cx="1494" cy="1067" r="6"/></g><g id="o61d"><circle cx="1495" cy="1159" r="6"/></g>
<g id="o62u"><circle cx="1496" cy="1046" r="6"/></g><g id="o62m"><circle cx="1501" cy="1116" r="6"/></g><g id="o62d"><circle cx="1499" cy="1225" r="6"/></g>
<g id="o63u"><circle cx="1500" cy="979" r="6"/></g><g id="o63m"><circle cx="1498" cy="1053" r="6"/></g><g id="o63d"><circle cx="1495" cy="1139" r="6"/></g>
<g id="o64u"><circle cx="1496" cy="1044" r="6"/></g><g id="o64m"><circle cx="1494" cy="1102" r="6"/></g><g id="o64d"><circle cx="1499" cy="1199" r="6"/></g>
<g id="o65u"><circle cx="1500" cy="1087" r="6"/></g><g id="o65m"><circle cx="1501" cy="1171" r="6"/></g><g id="o65d"><circle cx="1495" cy="1266" r="6"/></g>
<g id="o66u"><circle cx="1496" cy="1028" r="6"/></g><g id="o66m"><circle cx="1498" cy="1087" r="6"/></g><g id="o66d"><circle cx="1499" cy="1185" r="6"/></g>
<g id="o67u"><circle cx="1500" cy="1067" r="6"/></g><g id="o67m"><circle cx="1494" cy="1147" r="6"/></g><g id="o67d"><circle cx="1495" cy="1232" r="6"/></g>
<g id="o68u"><circle cx="1496" cy="1134" r="6"/></g><g id="o68m"><circle cx="1501" cy="1208" r="6"/></g><g id="o68d"><circle cx="1499" cy="1302" r="6"/></g>
<g id="o69u"><circle cx="1500" cy="1061" r="6"/></g><g id="o69m"><circle cx="1498" cy="1127" r="6"/></g><g id="o69d"><circle cx="1495" cy="1229" r="6"/></g>
<g id="o70u"><circle cx="1496" cy="1122" r="6"/></g><g id="o70m"><circle cx="1494" cy="1195" r="6"/></g><g id="o70d"><circle cx="1499" cy="1298" r="6"/></g>
<g id="o71u"><circle cx="1500" cy="1184" r="6"/></g><g id="o71m"><circle cx="1501" cy="1244" r="6"/></g><g id="o71d"><circle cx="1495" cy="1337" r="6"/></g>
<g id="o72u"><circle cx="1496" cy="1100" r="6"/></g><g id="o72m"><circle cx="1498" cy="1179" r="6"/></g><g id="o72d"><circle cx="1499" cy="1267" r="6"/></g>
<g id="o73u"><circle cx="1500" cy="1173" r="6"/></g><g id="o73m"><circle cx="1494" cy="1228" r="6"/></g><g id="o73d"><circle cx="1495" cy="1337" r="6"/></g>
<g id="o74u"><circle cx="1496" cy="1209" r="6"/></g><g id="o74m"><circle cx="1501" cy="1297" r="6"/></g><g id="o74d"><circle cx="1499" cy="1372" r="6"/></g>
<g id="o75u"><circle cx="1500" cy="1150" r="6"/></g><g id="o75m"><circle cx="1498" cy="1216" r="6"/></g><g id="o75d"><circle cx="1495" cy="1303" r="6"/></g>
<g id="o76u"><circle cx="1496" cy="1202" r="6"/></g><g id="o76m"><circle cx="1494" cy="1276" r="6"/></g><g id="o76d"><circle cx="1499" cy="1378" r="6"/></g>
<g id="o77u"><circle cx="1500" cy="1260" r="6"/></g><g id="o77m"><circle cx="1501" cy="1337" r="6"/></g><g id="o77d"><circle cx="1495" cy="1437" r="6"/></g>
<g id="o78u"><circle cx="1496" cy="1240" r="6"/></g><g id="o78m"><circle cx="1498" cy="1296" r="6"/></g><g id="o78d"><circle cx="1499" cy="1415" r="6"/></g>
<g id="o79u"><circle cx="1500" cy="1286" r="6"/></g><g id="o79m"><circle cx="1494" cy="1358" r="6"/></g><g id="o79d"><circle cx="1495" cy="1440" r="6"/></g>
<g id="o80u"><circle cx="1496" cy="1338" r="6"/></g><g id="o80m"><circle cx="1501" cy="1415" r="6"/></g><g id="o80d"><circle cx="1499" cy="1497" r="6"/></g>
</g>

<!-- caption -->
<text class="cap" x="1" y="1500">ision tree “decision – information – decision – information”</text>
</svg>
